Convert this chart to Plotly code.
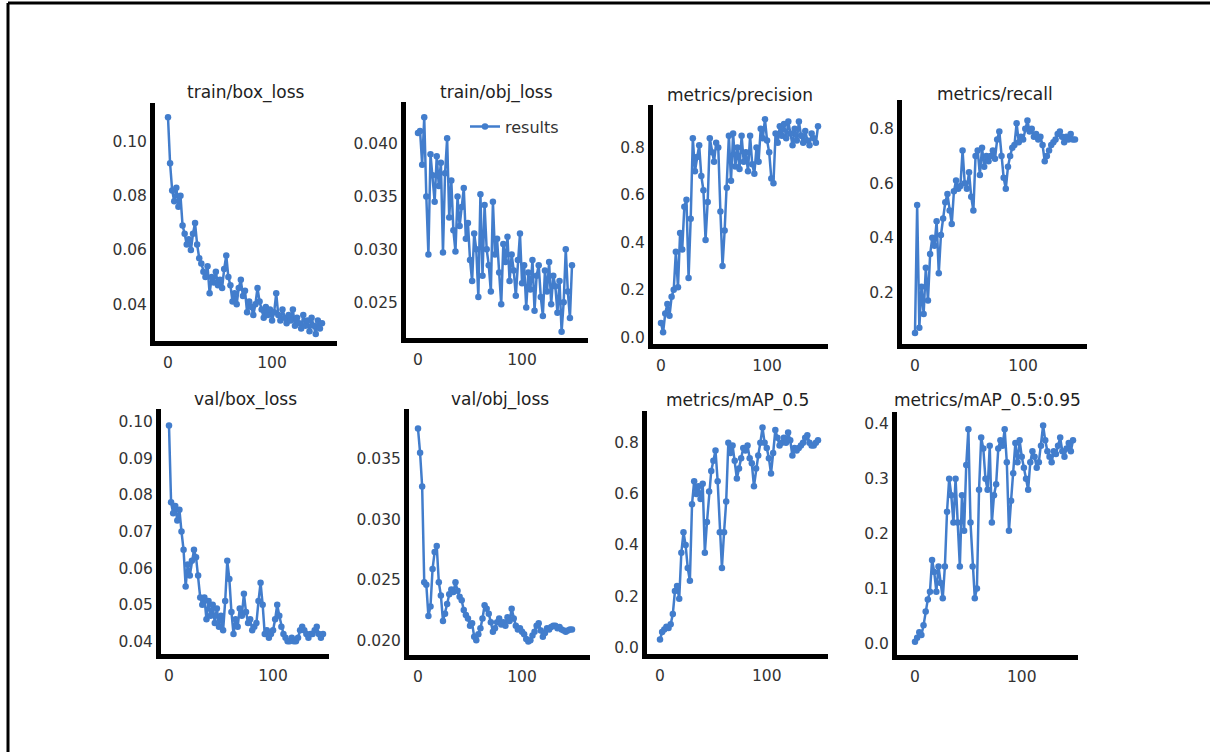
import plotly.graph_objects as go

W, H = 1210, 754

epochs = list(range(0, 150, 2))

train_box_loss = [0.109, 0.092, 0.082, 0.078, 0.083, 0.076, 0.080, 0.069, 0.066, 0.062,
                  0.064, 0.060, 0.066, 0.070, 0.062, 0.057, 0.055, 0.052, 0.050, 0.054,
                  0.044, 0.050, 0.048, 0.052, 0.047, 0.049, 0.046, 0.053, 0.058, 0.050,
                  0.047, 0.041, 0.044, 0.040, 0.046, 0.049, 0.043, 0.045, 0.037, 0.041,
                  0.039, 0.036, 0.040, 0.046, 0.041, 0.038, 0.035, 0.039, 0.036, 0.038,
                  0.034, 0.037, 0.044, 0.036, 0.034, 0.038, 0.035, 0.033, 0.036, 0.034,
                  0.038, 0.032, 0.035, 0.033, 0.031, 0.036, 0.032, 0.034, 0.030, 0.035,
                  0.032, 0.029, 0.034, 0.031, 0.033]

train_obj_loss = [0.0410, 0.0412, 0.0380, 0.0425, 0.0350, 0.0295, 0.0390, 0.0370, 0.0345, 0.0388,
                  0.0360, 0.0382, 0.0297, 0.0372, 0.0405, 0.0330, 0.0365, 0.0318, 0.0298, 0.0350,
                  0.0322, 0.0340, 0.0358, 0.0310, 0.0325, 0.0290, 0.0270, 0.0315, 0.0300, 0.0255,
                  0.0352, 0.0275, 0.0342, 0.0300, 0.0285, 0.0260, 0.0345, 0.0295, 0.0310, 0.0278,
                  0.0248, 0.0305, 0.0288, 0.0312, 0.0270, 0.0295, 0.0280, 0.0256, 0.0290, 0.0315,
                  0.0268, 0.0285, 0.0245, 0.0278, 0.0262, 0.0290, 0.0242, 0.0275, 0.0285, 0.0255,
                  0.0237, 0.0280, 0.0260, 0.0288, 0.0248, 0.0275, 0.0265, 0.0240, 0.0270, 0.0222,
                  0.0250, 0.0300, 0.0260, 0.0235, 0.0285]

precision = [0.06, 0.02, 0.10, 0.14, 0.09, 0.17, 0.20, 0.36, 0.21, 0.44,
             0.37, 0.55, 0.58, 0.25, 0.50, 0.84, 0.70, 0.76, 0.81, 0.68,
             0.62, 0.41, 0.57, 0.84, 0.78, 0.74, 0.82, 0.80, 0.53, 0.30,
             0.45, 0.63, 0.85, 0.66, 0.86, 0.72, 0.80, 0.71, 0.85, 0.74,
             0.78, 0.70, 0.85, 0.73, 0.69, 0.80, 0.74, 0.88, 0.84, 0.92,
             0.83, 0.78, 0.67, 0.65, 0.86, 0.82, 0.89, 0.85, 0.90, 0.84,
             0.91, 0.86, 0.81, 0.88, 0.83, 0.91, 0.85, 0.82, 0.87, 0.83,
             0.81, 0.86, 0.84, 0.82, 0.89]

recall = [0.05, 0.52, 0.07, 0.22, 0.12, 0.29, 0.17, 0.34, 0.40, 0.37,
          0.46, 0.27, 0.41, 0.47, 0.53, 0.56, 0.50, 0.45, 0.57, 0.61,
          0.58, 0.59, 0.72, 0.60, 0.58, 0.64, 0.55, 0.50, 0.70, 0.72,
          0.63, 0.73, 0.66, 0.70, 0.68, 0.70, 0.72, 0.69, 0.76, 0.79,
          0.70, 0.62, 0.58, 0.66, 0.70, 0.73, 0.74, 0.82, 0.75, 0.77,
          0.76, 0.80, 0.83, 0.79, 0.80, 0.77, 0.78, 0.76, 0.77, 0.74,
          0.68, 0.70, 0.72, 0.74, 0.75, 0.76, 0.78, 0.79, 0.77, 0.75,
          0.77, 0.76, 0.78, 0.76, 0.76]

val_box_loss = [0.099, 0.078, 0.075, 0.077, 0.073, 0.076, 0.070, 0.065, 0.055, 0.061,
                0.058, 0.062, 0.065, 0.063, 0.058, 0.052, 0.050, 0.052, 0.046, 0.051,
                0.047, 0.050, 0.045, 0.049, 0.044, 0.047, 0.043, 0.051, 0.062, 0.057,
                0.048, 0.042, 0.046, 0.044, 0.049, 0.047, 0.053, 0.048, 0.045, 0.046,
                0.043, 0.044, 0.045, 0.051, 0.056, 0.050, 0.042, 0.043, 0.041, 0.042,
                0.043, 0.046, 0.050, 0.047, 0.044, 0.042, 0.041, 0.040, 0.040, 0.041,
                0.040, 0.040, 0.041, 0.043, 0.044, 0.043, 0.042, 0.041, 0.042, 0.042,
                0.043, 0.044, 0.042, 0.041, 0.042]

val_obj_loss = [0.0375, 0.0355, 0.0327, 0.0248, 0.0246, 0.0220, 0.0228, 0.0259, 0.0273, 0.0278,
                0.0248, 0.0237, 0.0216, 0.0222, 0.0230, 0.0238, 0.0242, 0.0240, 0.0248, 0.0241,
                0.0236, 0.0233, 0.0225, 0.0221, 0.0218, 0.0212, 0.0214, 0.0203, 0.0200, 0.0205,
                0.0210, 0.0218, 0.0229, 0.0226, 0.0222, 0.0215, 0.0207, 0.0210, 0.0215, 0.0218,
                0.0213, 0.0215, 0.0212, 0.0219, 0.0216, 0.0226, 0.0218, 0.0212, 0.0209, 0.0210,
                0.0207, 0.0205, 0.0201, 0.0199, 0.0200, 0.0204, 0.0207, 0.0212, 0.0214, 0.0208,
                0.0203, 0.0206, 0.0210, 0.0209, 0.0211, 0.0212, 0.0212, 0.0210, 0.0211, 0.0209,
                0.0208, 0.0207, 0.0208, 0.0209, 0.0209]

map_05 = [0.03, 0.06, 0.07, 0.08, 0.075, 0.09, 0.13, 0.22, 0.24, 0.19,
          0.37, 0.45, 0.40, 0.31, 0.26, 0.56, 0.65, 0.60, 0.63, 0.58,
          0.64, 0.37, 0.49, 0.61, 0.69, 0.73, 0.77, 0.65, 0.45, 0.31,
          0.45, 0.57, 0.80, 0.76, 0.79, 0.73, 0.66, 0.70, 0.74, 0.78,
          0.77, 0.79, 0.74, 0.72, 0.63, 0.70, 0.75, 0.80, 0.86, 0.80,
          0.78, 0.74, 0.68, 0.76, 0.85, 0.82, 0.79, 0.80, 0.82, 0.80,
          0.84, 0.81, 0.75, 0.78, 0.77, 0.78, 0.79, 0.80, 0.82, 0.83,
          0.80, 0.79, 0.79, 0.80, 0.81]

map_05_095 = [0.003, 0.010, 0.020, 0.015, 0.033, 0.058, 0.080, 0.094, 0.152, 0.130,
              0.094, 0.140, 0.110, 0.082, 0.140, 0.240, 0.300, 0.270, 0.220, 0.300,
              0.220, 0.140, 0.270, 0.205, 0.325, 0.390, 0.220, 0.140, 0.082, 0.100,
              0.280, 0.375, 0.355, 0.300, 0.280, 0.360, 0.220, 0.270, 0.290, 0.355,
              0.370, 0.360, 0.390, 0.330, 0.205, 0.260, 0.310, 0.365, 0.330, 0.370,
              0.340, 0.320, 0.300, 0.280, 0.330, 0.350, 0.340, 0.320, 0.330, 0.360,
              0.397, 0.370, 0.350, 0.340, 0.330, 0.350, 0.345, 0.360, 0.375, 0.350,
              0.340, 0.355, 0.365, 0.350, 0.370]

series = [train_box_loss, train_obj_loss, precision, recall,
          val_box_loss, val_obj_loss, map_05, map_05_095]
titles = ["train/box_loss", "train/obj_loss", "metrics/precision", "metrics/recall",
          "val/box_loss", "val/obj_loss", "metrics/mAP_0.5", "metrics/mAP_0.5:0.95"]
x_ticks = [0, 100]
y_ticks = [[0.04, 0.06, 0.08, 0.10],
           [0.025, 0.030, 0.035, 0.040],
           [0.0, 0.2, 0.4, 0.6, 0.8],
           [0.2, 0.4, 0.6, 0.8],
           [0.04, 0.05, 0.06, 0.07, 0.08, 0.09, 0.10],
           [0.020, 0.025, 0.030, 0.035],
           [0.0, 0.2, 0.4, 0.6, 0.8],
           [0.0, 0.1, 0.2, 0.3, 0.4]]
y_formats = [".2f", ".3f", ".1f", ".1f", ".2f", ".3f", ".1f", ".1f"]

# ---- layout geometry (pixels) ----
# y-axis line x, x-axis line end, bottom px, top px, first-data px, last-data px
geom = [(155, 337, 342, 103, 168, 322),
        (406, 588, 339, 102, 418, 572),
        (653, 828, 345, 105, 661, 818),
        (902, 1087, 345, 100, 915, 1075),
        (161, 329, 656, 410, 169, 323),
        (409, 590, 657, 410, 418, 572),
        (647, 828, 656, 412, 660, 818),
        (897, 1078, 657, 413, 915, 1073)]
# y calibration: value_a at px_a, value_b at px_b
ycal = [(0.04, 305, 0.10, 142),
        (0.025, 303, 0.040, 144),
        (0.0, 338, 0.8, 148),
        (0.2, 293, 0.8, 129),
        (0.04, 643, 0.10, 423),
        (0.020, 642, 0.035, 460),
        (0.0, 649, 0.8, 444),
        (0.0, 645, 0.4, 425)]
title_y = [93, 93, 95, 94, 401, 401, 402, 402]

COLOR = "#427dcc"
FONT = "DejaVu Sans"

fig = go.Figure()
layout = dict(width=W, height=H, margin=dict(l=0, r=0, t=0, b=0),
              paper_bgcolor="white", plot_bgcolor="white",
              showlegend=True,
              legend=dict(x=465 / W, y=1 - 127 / H, xanchor="left", yanchor="middle",
                          bgcolor="rgba(0,0,0,0)", font=dict(family=FONT, size=16, color="#333"),
                          itemwidth=30, tracegroupgap=0))
annotations = []
for i, (vals, title) in enumerate(zip(series, titles)):
    n = i + 1
    x0, x1, bot, top, d0, d1 = geom[i]
    s = (d1 - d0) / (epochs[-1] - epochs[0])
    xr = [epochs[0] - (d0 - x0) / s, epochs[-1] + (x1 - d1) / s]
    va, pa, vb, pb = ycal[i]
    k = (pa - pb) / (vb - va)
    yr = [va - (bot - pa) / k, va + (pa - top) / k]
    xa = "x" if n == 1 else f"x{n}"
    ya = "y" if n == 1 else f"y{n}"
    fig.add_trace(go.Scatter(x=epochs, y=vals, xaxis=xa, yaxis=ya, mode="lines+markers",
                             name="results", showlegend=(n == 2),
                             line=dict(color=COLOR, width=2.5),
                             marker=dict(color=COLOR, size=6.5),
                             cliponaxis=False))
    axfont = dict(family=FONT, size=15.5, color="#333")
    layout[f"xaxis{n}"] = dict(domain=[x0 / W, x1 / W], range=xr, anchor=ya,
                               showline=True, linewidth=5, linecolor="black",
                               showgrid=False, zeroline=False, ticks="",
                               tickvals=x_ticks, ticktext=[str(t) for t in x_ticks],
                               tickfont=axfont, ticklabelstandoff=3, fixedrange=True)
    layout[f"yaxis{n}"] = dict(domain=[1 - bot / H, 1 - top / H], range=yr, anchor=xa,
                               showline=True, linewidth=5, linecolor="black",
                               showgrid=False, zeroline=False, ticks="",
                               tickvals=y_ticks[i], tickformat=y_formats[i],
                               tickfont=axfont, ticklabelstandoff=0, fixedrange=True)
    annotations.append(dict(text=title, x=(x0 + x1) / 2 / W, y=1 - title_y[i] / H,
                            xref="paper", yref="paper", showarrow=False,
                            xanchor="center", yanchor="middle",
                            font=dict(family=FONT, size=17, color="#222")))

layout["annotations"] = annotations
layout["shapes"] = [
    dict(type="line", xref="paper", yref="paper", x0=8 / W, x1=8 / W, y0=0, y1=1 - 3 / H,
         line=dict(color="black", width=3)),
    dict(type="line", xref="paper", yref="paper", x0=8 / W, x1=1, y0=1 - 3 / H, y1=1 - 3 / H,
         line=dict(color="black", width=3)),
]
fig.update_layout(**layout)
fig.write_html("out.html",
               config={"displayModeBar": False, "staticPlot": True},
               post_script="document.body.style.margin='0';document.body.style.overflow='hidden';")
